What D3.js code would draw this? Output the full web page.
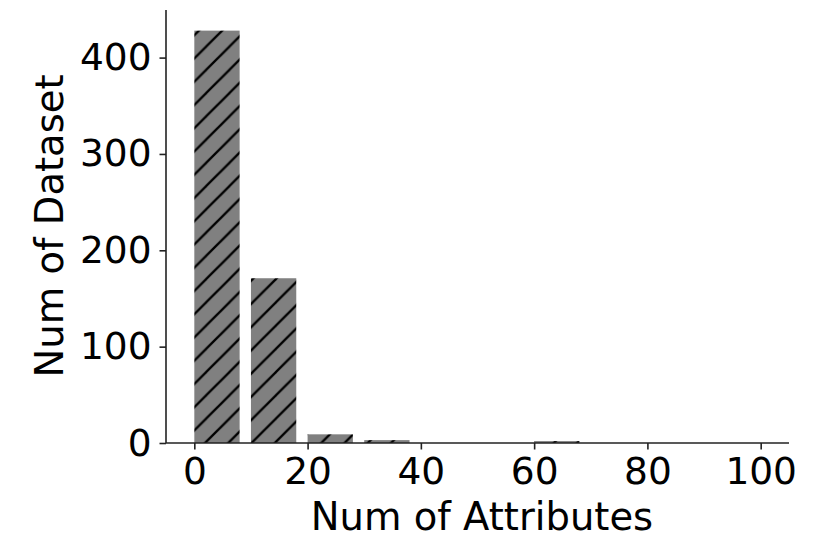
<!DOCTYPE html>
<html><head><meta charset="utf-8">
<script src="https://cdn.jsdelivr.net/npm/d3@7"></script>
<style>body{margin:0;background:#fff}svg{display:block}</style>
</head><body>
<svg id="c" width="830" height="554"></svg>
<script>
const binStarts = [0, 10, 20, 30, 40, 50, 60, 70, 80, 90];
const counts    = [428, 171, 9, 3, 0, 0, 2, 0, 0, 0];
const xTicks = [0, 20, 40, 60, 80, 100];
const yTicks = [0, 100, 200, 300, 400];
const barWidth = 8;

const svg = d3.select("#c");
const m = {l:166, r:789, t:10, b:443};
const x = d3.scaleLinear().domain([-5, 105]).range([m.l, m.r]);
const y = d3.scaleLinear().domain([0, 428*1.05]).range([m.b, m.t]);

const defs = svg.append("defs");
const s = 23.25;
const pat = defs.append("pattern").attr("id","hatch").attr("patternUnits","userSpaceOnUse")
  .attr("width", s).attr("height", s).attr("patternTransform","translate(20.25,0)");
pat.append("rect").attr("width", s).attr("height", s).attr("fill","#808080");
[[0,s,s,0],[-s,s,s,-s],[0,2*s,2*s,0]].forEach(d=>{
  pat.append("line").attr("x1",d[0]).attr("y1",d[1]).attr("x2",d[2]).attr("y2",d[3])
    .attr("stroke","#000").attr("stroke-width",2.3);
});

const data = binStarts.map((b,i)=>({b, c:counts[i]})).filter(d=>d.c>0);
svg.append("g").selectAll("rect").data(data).join("rect")
  .attr("x", d=>x(d.b)).attr("width", d=>x(d.b+barWidth)-x(d.b))
  .attr("y", d=>y(d.c)).attr("height", d=>y(0)-y(d.c))
  .attr("fill","url(#hatch)");

const font = "DejaVu Sans";
const xa = svg.append("g").attr("transform",`translate(0,${m.b})`)
  .call(d3.axisBottom(x).tickValues(xTicks).tickSize(6.5).tickPadding(8).tickFormat(d3.format("d")));
const ya = svg.append("g").attr("transform",`translate(${m.l},0)`)
  .call(d3.axisLeft(y).tickValues(yTicks).tickSize(6.5).tickPadding(8).tickFormat(d3.format("d")));
[xa, ya].forEach(a=>{
  a.selectAll("text").attr("font-family",font).attr("font-size",37.5).attr("fill","#000");
  a.selectAll("line").attr("stroke","#222").attr("stroke-width",1.6);
  a.select(".domain").attr("stroke","#222").attr("stroke-width",1.6);
});
xa.select(".domain").attr("d",`M${m.l},0H${m.r}`);
ya.select(".domain").attr("d",`M0,${m.b}V${m.t}`);

svg.append("text").attr("x", 482).attr("y", 530).attr("text-anchor","middle")
  .attr("font-family",font).attr("font-size",38.5).text("Num of Attributes");
svg.append("text").attr("transform",`translate(63,226) rotate(-90)`).attr("text-anchor","middle")
  .attr("font-family",font).attr("font-size",38.5).text("Num of Dataset");
</script>
</body></html>
